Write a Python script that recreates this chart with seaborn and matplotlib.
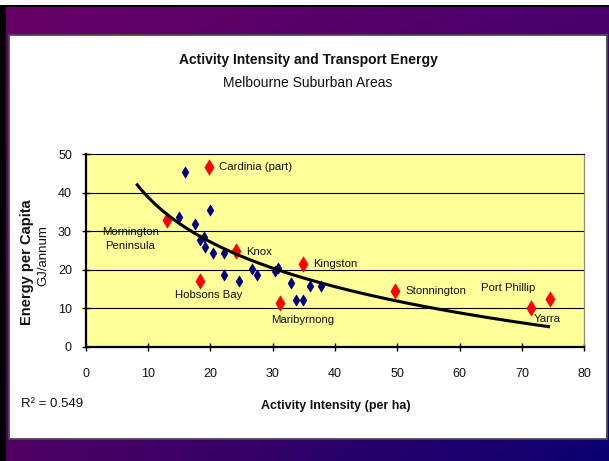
import numpy as np
import pandas as pd
import matplotlib
matplotlib.use("Agg")
import matplotlib.pyplot as plt
import seaborn as sns
from matplotlib.patches import Rectangle
from matplotlib.collections import PatchCollection

# ---------------- data ----------------
blue_x = [15.9, 15.0, 20.0, 17.6, 18.3, 18.9, 19.2, 20.4, 22.1, 22.1,
          24.6, 26.7, 27.4, 30.3, 30.8, 33.0, 33.7, 34.8, 36.0, 37.8]
blue_y = [45.3, 33.6, 35.5, 31.8, 27.7, 28.4, 25.8, 24.2, 24.2, 18.6,
          17.0, 20.1, 18.5, 19.7, 20.4, 16.6, 12.0, 12.0, 15.8, 15.8]

red_names = ["Cardinia (part)", "Mornington\nPeninsula", "Knox", "Kingston",
             "Hobsons Bay", "Maribyrnong", "Stonnington", "Port Phillip", "Yarra"]
red_x = [19.7, 13.1, 24.1, 34.9, 18.3, 31.1, 49.7, 71.4, 74.5]
red_y = [46.5, 32.9, 24.8, 21.5, 17.0, 11.4, 14.4, 10.1, 12.4]

x_ticks = [0, 10, 20, 30, 40, 50, 60, 70, 80]
y_ticks = [0, 10, 20, 30, 40, 50]

title = "Activity Intensity and Transport Energy"
subtitle = "Melbourne Suburban Areas"
x_label = "Activity Intensity (per ha)"
y_label1 = "Energy per Capita"
y_label2 = "GJ/annum"
r2_label = "R\u00b2 = 0.549"
trend_backcast = 5.0

# label placement (pixel offsets, styling only)
label_offsets = {
    "Cardinia (part)": (10, 0, "left"),
    "Mornington\nPeninsula": (-37, -19.5, "center"),
    "Knox": (10, -1, "left"),
    "Kingston": (9.5, 0, "left"),
    "Hobsons Bay": (8.7, -14, "center"),
    "Maribyrnong": (23, -17, "center"),
    "Stonnington": (10, 0, "left"),
    "Port Phillip": (-23, 20, "center"),
    "Yarra": (-3, -20, "center"),
}

# ---------------- style ----------------
sns.set_style("white")
FONT = ["Liberation Sans Narrow", "Liberation Sans", "DejaVu Sans"]
plt.rcParams["font.family"] = FONT

W, H = 609, 461
fig = plt.figure(figsize=(W / 100, H / 100), dpi=100)
fig.patch.set_facecolor("white")

# background frame (pixel coordinates, y downwards)
bg = fig.add_axes([0, 0, 1, 1], zorder=-10)
bg.axis("off")
bg.set_xlim(0, W)
bg.set_ylim(H, 0)
bg.add_patch(Rectangle((0, 5), W, H - 5, facecolor="black", edgecolor="none", zorder=1))

# diagonal purple -> navy gradient built from small cells
c_tl = np.array([0x68, 0x00, 0x66]) / 255.0
c_tr = np.array([0x4A, 0x00, 0x6C]) / 255.0
c_bl = np.array([0x50, 0x00, 0x62]) / 255.0
c_br = np.array([0x0A, 0x00, 0x70]) / 255.0
x0, x1, y0, y1 = 6.0, float(W), 7.0, float(H)
nx, ny = 80, 60
xe = np.linspace(x0, x1, nx + 1)
ye = np.linspace(y0, y1, ny + 1)
cells, cols = [], []
for j in range(ny):
    v = (j + 0.5) / ny
    for i in range(nx):
        u = (i + 0.5) / nx
        c = (c_tl * (1 - u) * (1 - v) + c_tr * u * (1 - v)
             + c_bl * (1 - u) * v + c_br * u * v)
        cells.append(Rectangle((xe[i], ye[j]), xe[i + 1] - xe[i] + 0.3, ye[j + 1] - ye[j] + 0.3))
        cols.append(c)
pc = PatchCollection(cells, facecolors=cols, edgecolors="none", zorder=2)
bg.add_collection(pc)
bg.add_patch(Rectangle((8.5, 35.5), 598, 403, facecolor="white", edgecolor="#4a4a4a",
                       lw=1.3, zorder=3))

# main plot axes
left_px, right_px, top_px, bottom_px = 85.8, 584.3, 154.0, 346.7
ax = fig.add_axes([left_px / W, 1 - bottom_px / H,
                   (right_px - left_px) / W, (bottom_px - top_px) / H])
ax.set_facecolor("#FFFF99")

blue_df = pd.DataFrame({"x": blue_x, "y": blue_y})
red_df = pd.DataFrame({"x": red_x, "y": red_y, "name": red_names})

sns.scatterplot(data=blue_df, x="x", y="y", ax=ax, marker="d", s=32,
                color="#000080", edgecolor="#000080", linewidth=0.5, zorder=3)
sns.scatterplot(data=red_df, x="x", y="y", ax=ax, marker="d", s=60,
                color="#FF0000", edgecolor="#FF0000", linewidth=0.5, zorder=3)

# logarithmic trendline fitted to all points
all_x = np.array(blue_x + red_x)
all_y = np.array(blue_y + red_y)
b, a = np.polyfit(np.log(all_x), all_y, 1)
xs = np.linspace(all_x.min() - trend_backcast, all_x.max(), 200)
ax.plot(xs, a + b * np.log(xs), color="black", lw=2.2, zorder=4,
        solid_capstyle="butt")

for name, x, y in zip(red_names, red_x, red_y):
    dx, dy, ha = label_offsets[name]
    ax.annotate(name, (x, y), xytext=(dx * 0.72, dy * 0.72), textcoords="offset points",
                ha=ha, va="center", fontsize=8.2, color="#111111",
                multialignment="center", linespacing=1.5, zorder=5)

ax.set_xlim(0, 80)
ax.set_ylim(0, 50)
ax.set_xticks(x_ticks)
ax.set_yticks(y_ticks)
ax.set_xlabel("")
ax.set_ylabel("")
ax.grid(False)
for yv in y_ticks[1:-1]:
    ax.axhline(yv, color="black", lw=0.8, zorder=1)

for s in ["left", "bottom"]:
    ax.spines[s].set_color("black")
    ax.spines[s].set_linewidth(1.6)
ax.spines["top"].set_color("black")
ax.spines["top"].set_linewidth(0.8)
ax.spines["right"].set_color("#8a8a8a")
ax.spines["right"].set_linewidth(0.9)

ax.tick_params(axis="both", direction="inout", length=6, width=1, color="black",
               labelsize=9, labelcolor="#111111")
ax.tick_params(axis="x", pad=12, bottom=True)
ax.tick_params(axis="y", pad=7, left=True)

# texts
bg.text(308, 60, title, ha="center", va="center", fontsize=10, fontweight="bold",
        color="#111111", zorder=5)
bg.text(308, 83, subtitle, ha="center", va="center", fontsize=10, color="#111111", zorder=5)
bg.text(336, 406, x_label, ha="center", va="center", fontsize=9, fontweight="bold",
        color="#111111", zorder=5)
bg.text(21, 404, r2_label, ha="left", va="center", fontsize=9.5, color="#111111", zorder=5)
bg.text(27, 262, y_label1, ha="center", va="center", rotation=90, fontsize=10.5,
        fontweight="bold", color="#111111", zorder=5)
bg.text(43, 256, y_label2, ha="center", va="center", rotation=90, fontsize=9.5,
        color="#111111", zorder=5)

fig.savefig("out.png", dpi=100)
